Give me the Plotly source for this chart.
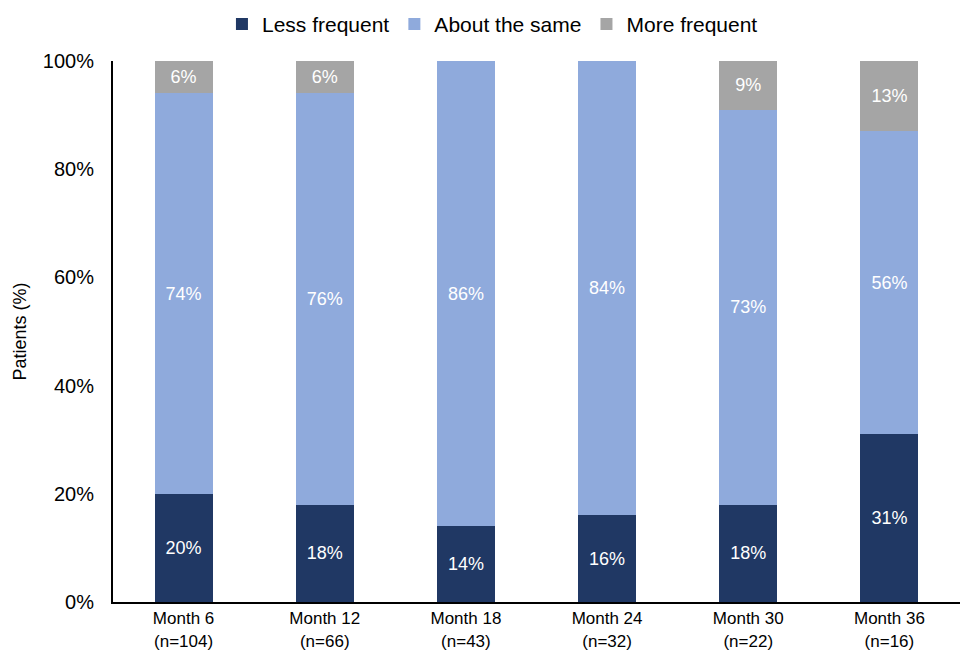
import plotly.graph_objects as go

categories = ["Month 6<br>(n=104)", "Month 12<br>(n=66)", "Month 18<br>(n=43)",
              "Month 24<br>(n=32)", "Month 30<br>(n=22)", "Month 36<br>(n=16)"]
less_frequent = [20, 18, 14, 16, 18, 31]
about_same = [74, 76, 86, 84, 73, 56]
more_frequent = [6, 6, 0, 0, 9, 13]

series = [
    ("Less frequent", less_frequent, "#203864"),
    ("About the same", about_same, "#8FAADC"),
    ("More frequent", more_frequent, "#A5A5A5"),
]

font_family = "Liberation Sans, Arial, sans-serif"

fig = go.Figure()
for name, values, color in series:
    fig.add_trace(go.Bar(
        name=name,
        x=categories,
        y=[v / 100 for v in values],
        marker=dict(color=color, line=dict(width=0)),
        text=[f"{v}%" if v > 0 else "" for v in values],
        textposition="inside",
        insidetextanchor="middle",
        textangle=0,
        textfont=dict(color="white", size=18, family=font_family),
        hoverinfo="skip",
    ))

fig.update_layout(
    barmode="stack",
    bargap=0.59,
    width=960,
    height=656,
    margin=dict(l=113, r=0, t=61, b=54, autoexpand=False),
    paper_bgcolor="white",
    plot_bgcolor="white",
    font=dict(family=font_family, color="black"),
    legend=dict(
        orientation="h",
        yref="container",
        x=0.448, xanchor="center",
        y=0.963, yanchor="middle",
        font=dict(size=21),
        traceorder="normal",
        itemwidth=30,
    ),
    xaxis=dict(
        showline=True, linecolor="black", linewidth=2,
        ticks="", tickfont=dict(size=17),
        showgrid=False,
    ),
    yaxis=dict(
        range=[0, 1],
        tickvals=[0, 0.2, 0.4, 0.6, 0.8, 1.0],
        tickformat=".0%",
        showline=True, linecolor="black", linewidth=2,
        ticks="", showgrid=False, zeroline=False,
        tickfont=dict(size=20),
        ticklabelstandoff=13,
        title=dict(text="Patients (%)", font=dict(size=18), standoff=12),
    ),
)

fig.write_html("out.html")
